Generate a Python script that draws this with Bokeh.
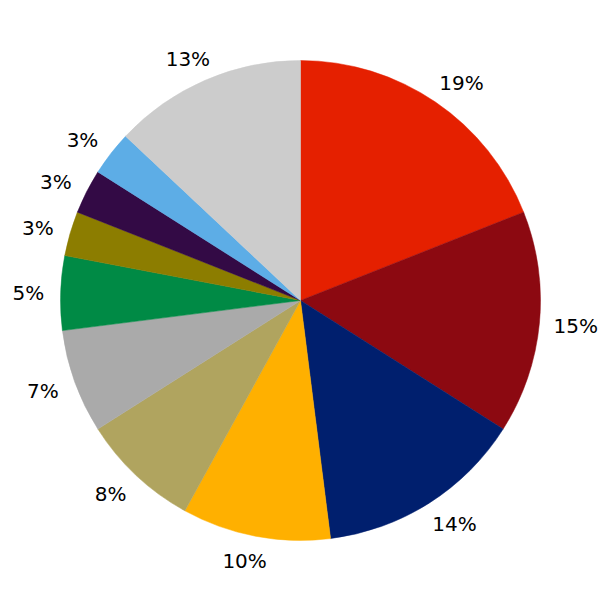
import numpy as np
from bokeh.plotting import figure
from bokeh.models import Range1d, ColumnDataSource
from bokeh.core.properties import value
from bokeh.embed import file_html
from bokeh.resources import INLINE

shares = [19, 15, 14, 10, 8, 7, 5, 3, 3, 3, 13]
labels = ["19%", "15%", "14%", "10%", "8%", "7%", "5%", "3%", "3%", "3%", "13%"]
colors = ["#E52000", "#8C0911", "#001F6E", "#FFB000", "#B0A45F", "#AAAAAA",
          "#008A45", "#8C7D00", "#330A45", "#5DADE6", "#CCCCCC"]

R = 240
LR = 272

frac = np.array(shares, dtype=float) / sum(shares)
cum = np.concatenate([[0], np.cumsum(frac)])
start = np.pi / 2 - 2 * np.pi * cum[:-1]
end = np.pi / 2 - 2 * np.pi * cum[1:]
mid = (start + end) / 2

hx = np.cos(mid)
vy = np.sin(mid)
lx = LR * hx + 5 * np.sign(hx) * np.abs(vy) + np.where(hx > 0, 4, 0)
ly = 264 * vy - 1

src = ColumnDataSource(dict(start=start, end=end, color=colors))
lsrc = ColumnDataSource(dict(x=lx, y=ly, text=labels))

p = figure(width=600, height=600, output_backend="svg", toolbar_location=None,
           x_range=Range1d(-300, 300), y_range=Range1d(-300, 300),
           min_border=0)
p.axis.visible = False
p.grid.visible = False
p.outline_line_color = None
p.background_fill_color = "white"

p.wedge(x=0, y=0, radius=R, start_angle="start", end_angle="end",
        direction="clock", fill_color="color", line_color="color", line_width=0.5,
        source=src)
p.text(x="x", y="y", text="text", source=lsrc, text_align="center",
       text_baseline="middle", text_font=value("DejaVu Sans"),
       text_font_size="20px", text_color="black")

open("out.html", "w").write(file_html(p, INLINE))
